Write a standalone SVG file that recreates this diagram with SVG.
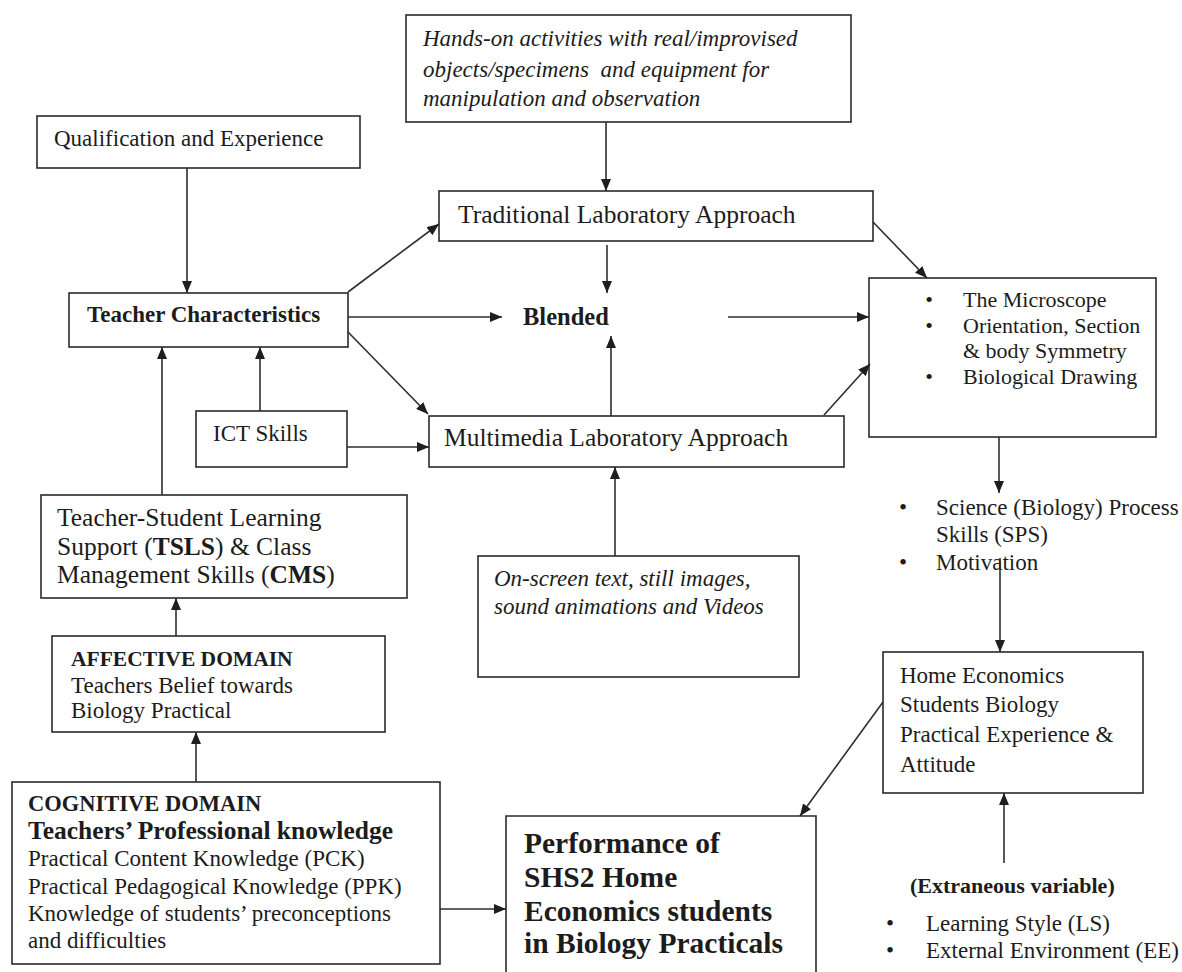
<svg xmlns="http://www.w3.org/2000/svg" width="1182" height="972" viewBox="0 0 1182 972">
<defs>
<style>
.box{fill:#fff;stroke:#2a2a2a;stroke-width:1.6}
.t{font-family:"Liberation Serif","Times New Roman",serif;font-size:23px;fill:#1c1c1c}
.b{font-weight:bold}
.i{font-style:italic}
.c line,.c path{stroke:#2e2e2e;stroke-width:1.6;fill:none;marker-end:url(#ah)}
</style>
<marker id="ah" markerUnits="userSpaceOnUse" markerWidth="12" markerHeight="10" refX="12" refY="5" orient="auto">
<path d="M0,0 L12,5 L0,10 z" fill="#1e1e1e"/>
</marker>
</defs>
<rect width="1182" height="972" fill="#fff"/>

<g id="handson">
<rect class="box" x="406" y="15" width="445" height="107"/>
<text class="t i" x="423" y="46">Hands-on activities with real/improvised</text>
<text class="t i" x="423" y="77" xml:space="preserve">objects/specimens  and equipment for</text>
<text class="t i" x="423" y="106">manipulation and observation</text>
</g>

<g id="qualification">
<rect class="box" x="37" y="116" width="323" height="52"/>
<text class="t" x="54" y="146">Qualification and Experience</text>
</g>

<g id="traditional">
<rect class="box" x="439" y="191" width="434" height="50"/>
<text class="t" x="458" y="223" style="font-size:25.5px">Traditional Laboratory Approach</text>
</g>

<g id="teacher">
<rect class="box" x="69" y="293" width="279" height="54"/>
<text class="t b" x="87" y="322">Teacher Characteristics</text>
</g>

<g id="blended">
<text class="t b" x="523" y="325" style="font-size:24.5px">Blended</text>
</g>

<g id="microscope">
<rect class="box" x="869" y="278" width="287" height="159"/>
<text class="t" x="929" y="307" text-anchor="middle" style="font-size:22px">•</text>
<text class="t" x="963" y="307" style="font-size:22px">The Microscope</text>
<text class="t" x="929" y="333" text-anchor="middle" style="font-size:22px">•</text>
<text class="t" x="963" y="333" style="font-size:22px">Orientation, Section</text>
<text class="t" x="963" y="358" style="font-size:22px">&amp; body Symmetry</text>
<text class="t" x="929" y="384" text-anchor="middle" style="font-size:22px">•</text>
<text class="t" x="963" y="384" style="font-size:22px">Biological Drawing</text>
</g>

<g id="ict">
<rect class="box" x="196" y="411" width="151" height="56"/>
<text class="t" x="213" y="441">ICT Skills</text>
</g>

<g id="multimedia">
<rect class="box" x="429" y="416" width="415" height="51"/>
<text class="t" x="444" y="446" style="font-size:25.5px">Multimedia Laboratory Approach</text>
</g>

<g id="tsls">
<rect class="box" x="41" y="495" width="366" height="103"/>
<text class="t" x="57" y="526" style="font-size:25.5px">Teacher-Student Learning</text>
<text class="t" x="57" y="555" style="font-size:25.5px">Support (<tspan class="b">TSLS</tspan>) &amp; Class</text>
<text class="t" x="57" y="583" style="font-size:25.5px">Management Skills (<tspan class="b">CMS</tspan>)</text>
</g>

<g id="onscreen">
<rect class="box" x="478" y="556" width="321" height="121"/>
<text class="t i" x="494" y="586">On-screen text, still images,</text>
<text class="t i" x="494" y="614">sound animations and Videos</text>
</g>

<g id="sps">
<text class="t" x="903" y="515" text-anchor="middle">•</text>
<text class="t" x="936" y="515">Science (Biology) Process</text>
<text class="t" x="936" y="542">Skills (SPS)</text>
<text class="t" x="903" y="570" text-anchor="middle">•</text>
<text class="t" x="936" y="570">Motivation</text>
</g>

<g id="affective">
<rect class="box" x="52" y="636" width="333" height="96"/>
<text class="t b" x="71" y="666" style="font-size:21.5px">AFFECTIVE DOMAIN</text>
<text class="t" x="71" y="693">Teachers Belief towards</text>
<text class="t" x="71" y="718">Biology Practical</text>
</g>

<g id="homeecon">
<rect class="box" x="883" y="652" width="260" height="141"/>
<text class="t" x="900" y="683">Home Economics</text>
<text class="t" x="900" y="712">Students Biology</text>
<text class="t" x="900" y="742">Practical Experience &amp;</text>
<text class="t" x="900" y="772">Attitude</text>
</g>

<g id="cognitive">
<rect class="box" x="12" y="782" width="428" height="182"/>
<text class="t b" x="28" y="811" style="font-size:22.5px">COGNITIVE DOMAIN</text>
<text class="t b" x="28" y="839" style="font-size:25.5px">Teachers’ Professional knowledge</text>
<text class="t" x="28" y="866">Practical Content Knowledge (PCK)</text>
<text class="t" x="28" y="894">Practical Pedagogical Knowledge (PPK)</text>
<text class="t" x="28" y="921">Knowledge of students’ preconceptions</text>
<text class="t" x="28" y="948">and difficulties</text>
</g>

<g id="performance">
<path class="box" d="M506,980 L506,816 L816,816 L816,980" style="fill:#fff"/>
<text class="t b" x="524" y="853" style="font-size:29.5px">Performance of</text>
<text class="t b" x="524" y="887" style="font-size:29.5px">SHS2 Home</text>
<text class="t b" x="524" y="921" style="font-size:29.5px">Economics students</text>
<text class="t b" x="524" y="953" style="font-size:29.5px">in Biology Practicals</text>
</g>

<g id="extraneous">
<text class="t b" x="910" y="893" style="font-size:22px">(Extraneous variable)</text>
<text class="t" x="890" y="931" text-anchor="middle">•</text>
<text class="t" x="926" y="931">Learning Style (LS)</text>
<text class="t" x="890" y="958" text-anchor="middle">•</text>
<text class="t" x="926" y="958">External Environment (EE)</text>
</g>

<g id="connectors" class="c">
<line x1="606" y1="122" x2="606" y2="191"/>
<line x1="187" y1="168" x2="187" y2="293"/>
<line x1="348" y1="292" x2="439" y2="224"/>
<line x1="348" y1="317" x2="502" y2="317"/>
<line x1="348" y1="332" x2="428" y2="414"/>
<line x1="607" y1="245" x2="607" y2="293"/>
<line x1="611" y1="416" x2="611" y2="336"/>
<line x1="728" y1="317" x2="869" y2="317"/>
<line x1="873" y1="222" x2="927" y2="278"/>
<line x1="824" y1="415" x2="870" y2="364"/>
<line x1="260" y1="411" x2="260" y2="347"/>
<line x1="347" y1="447" x2="429" y2="447"/>
<line x1="162" y1="495" x2="162" y2="347"/>
<line x1="176" y1="636" x2="176" y2="598"/>
<line x1="196" y1="782" x2="196" y2="732"/>
<line x1="440" y1="909" x2="506" y2="909"/>
<line x1="615" y1="556" x2="615" y2="467"/>
<line x1="999" y1="437" x2="999" y2="493"/>
<line x1="1000" y1="558" x2="1000" y2="652"/>
<line x1="883" y1="702" x2="800" y2="816"/>
<line x1="1004" y1="863" x2="1004" y2="793"/>
</g>
</svg>
